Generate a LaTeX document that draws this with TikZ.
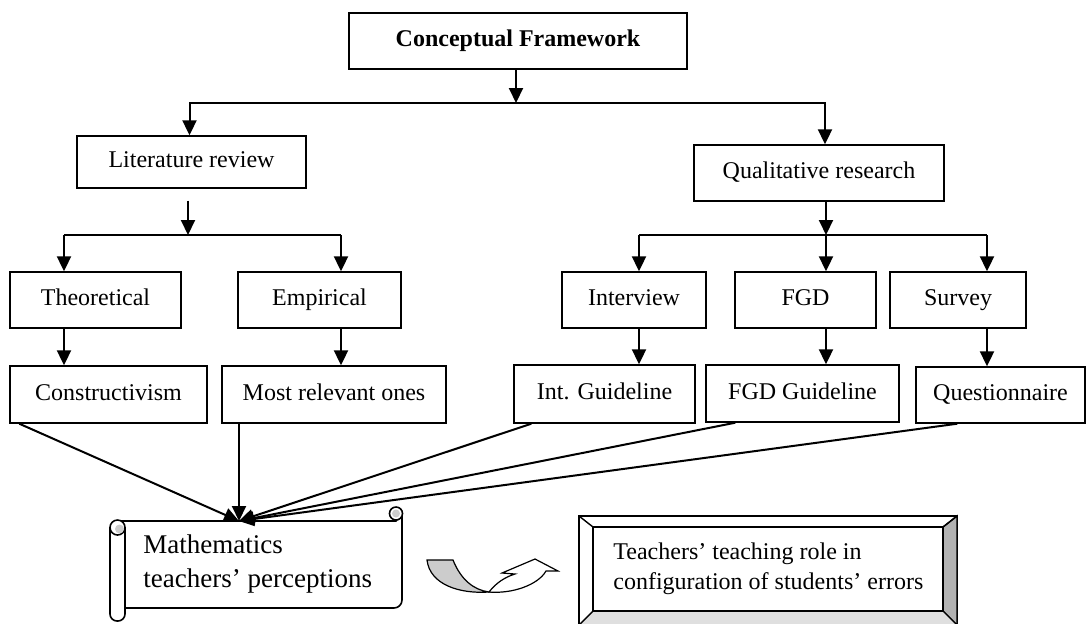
\documentclass[tikz,border=0pt]{standalone}
\usepackage{fontspec}
\setmainfont{Liberation Serif}
\usetikzlibrary{arrows.meta,fit}

\tikzset{
  box/.style={draw=black, line width=0.7pt, inner sep=0pt, minimum height=28pt, text height=1.6ex, text depth=0.4ex, font=\fontsize{12}{14}\selectfont},
  arr/.style={line width=1pt, -{Triangle[width=7pt,length=7.5pt]}},
  link/.style={line width=1pt},
  scrollline/.style={draw=black, line width=0.8pt},
}

\begin{document}
\begin{tikzpicture}[x=0.5pt,y=-0.5pt]
  \useasboundingbox (0,0) rectangle (1091,623);

  % boxes
  \node[box, minimum width=169pt, font=\bfseries\fontsize{12}{14}\selectfont] (concept) at (518,41) {Conceptual Framework};
  \node[box, minimum width=114.5pt, minimum height=26pt] (litreview) at (191.5,162) {Literature review};
  \node[box, minimum width=125pt] (qualres) at (819,173) {Qualitative research};

  \node[box, minimum width=85.5pt] (theory) at (95.5,300) {Theoretical};
  \node[box, minimum width=81.5pt] (empiric) at (319.5,300) {Empirical};
  \node[box, minimum width=72pt] (interview) at (634,300) {Interview};
  \node[box, minimum width=70.5pt] (fgd) at (805.5,300) {FGD};
  \node[box, minimum width=68pt] (survey) at (958,300) {Survey};

  \node[box, minimum width=98.5pt, minimum height=28.5pt] (construct) at (108.5,394.5) {Constructivism};
  \node[box, minimum width=112pt, minimum height=28.5pt] (relevant) at (334,394.5) {Most relevant ones};
  \node[box, minimum width=90.5pt, minimum height=29pt] (intguide) at (604.5,394) {Int. Guideline};
  \node[box, minimum width=96.5pt, minimum height=28.5pt] (fgdguide) at (802.5,393.5) {FGD Guideline};
  \node[box, minimum width=84.5pt] (quest) at (1000.5,395) {Questionnaire};

  % junctions
  \coordinate (topsplit) at (516,103);
  \coordinate (litsplit) at (188,235);
  \coordinate (qualsplit) at (826,235);
  \coordinate (meet) at (239,521);

  \draw[arr] (concept.south -| topsplit) -- (topsplit);
  \draw[arr] (topsplit) -| ([xshift=-1pt]litreview.north);
  \draw[arr] (topsplit) -| ([xshift=3pt]qualres.north);
  \draw[arr] ([yshift=-6pt]litreview.south -| litsplit) -- (litsplit);
  \draw[arr] (qualres.south -| qualsplit) -- (qualsplit);

  \foreach \up/\down/\x in {theory/construct/64, empiric/relevant/341, interview/intguide/639, fgd/fgdguide/826, survey/quest/987} {
    \coordinate (b\up) at (\x,235);
    \draw[arr] (b\up) -- (\up.north -| b\up);
    \draw[arr] (\up.south -| b\up) -- (\down.north -| b\up);
  }
  \draw[link] (btheory) -- (bempiric);
  \draw[link] (binterview) -- (bsurvey);

  % scroll
  \draw[scrollline, fill=white] (118,521) -- (396,521) -- (402,513) -- (402,600)
    arc[start angle=0, end angle=90, radius=8] -- (125,608) -- cycle;
  \draw[scrollline, fill=white] (396,513.5) circle[radius=6.5];
  \fill[gray!40] (396,513.5) circle[radius=4];
  \draw[scrollline, fill=white, rounded corners=3.5pt] (125,527) -- (125,621) -- (110,621) -- (110,527);
  \draw[scrollline, fill=white] (117.5,527.5) circle[radius=7.5];
  \fill[gray!40] (119.5,529) circle[radius=4.5];
  \node[anchor=west, align=left, inner sep=0pt, font=\fontsize{13.5}{17}\selectfont] (perceptions) at (143,564) {Mathematics\\teachers' perceptions};

  \draw[arr] ([xshift=5pt]construct.south west) -- (meet);
  \draw[arr] (relevant.south -| meet) -- (meet);
  \draw[arr] ([xshift=9pt]intguide.south west) -- (meet);
  \draw[arr] ([xshift=15pt]fgdguide.south west) -- (meet);
  \draw[arr] ([xshift=21pt]quest.south west) -- (meet);

  % curved arrow
  \filldraw[fill=gray!40, line width=0.6pt] (427,560) -- (453,560) .. controls (461,580) and (474,590) .. (489,592)
    .. controls (460,594) and (430,585) .. (427,560) -- cycle;
  \filldraw[fill=white, line width=0.6pt] (489,592) .. controls (496,583) and (505,577) .. (515,574) -- (502,573)
    -- (535,559) -- (558,571) -- (546,571) .. controls (538,585) and (512,594) .. (489,592) -- cycle;

  % bevel box
  \filldraw[fill=white, line width=0.7pt] (579,516) rectangle (957,625);
  \filldraw[fill=gray!60, line width=0.7pt] (943,527) -- (957,516) -- (957,625) -- (943,611) -- cycle;
  \filldraw[fill=gray!25, line width=0.7pt] (593,611) -- (943,611) -- (957,625) -- (579,625) -- cycle;
  \draw[line width=0.7pt] (579,516) -- (593,527) (957,516) -- (943,527);
  \node[box, fit={(593,527) (943,611)}] (rolebox) {};
  \node[anchor=west, align=left, inner sep=0pt, font=\fontsize{12}{15}\selectfont] (role) at (613,569) {Teachers' teaching role in\\configuration of students' errors};
\end{tikzpicture}
\end{document}
